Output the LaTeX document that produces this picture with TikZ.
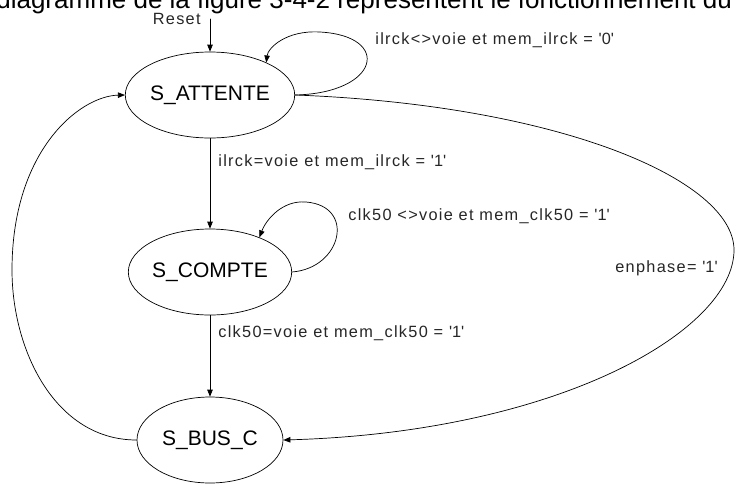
\documentclass[tikz,border=0pt]{standalone}
\usepackage{fontspec}
\setmainfont{Liberation Sans}
\newfontfamily\lblfont[LetterSpace=8]{Liberation Sans}
\usepackage{tikz}
\usetikzlibrary{arrows.meta,shapes.geometric}

\newcommand{\qbit}[1]{\textquotesingle#1\textquotesingle}

\begin{document}
\begin{tikzpicture}[x=1pt,y=-1pt,line cap=round,line join=round,line width=0.7pt,
    >={Triangle[length=7pt,width=5.5pt]},
    etat/.style={ellipse, draw, minimum width=146pt, minimum height=86pt, inner sep=0pt,
                 font=\fontsize{21}{21}\selectfont},
    cond/.style={anchor=west, inner sep=0pt, text=black!85, font=\lblfont\fontsize{16.3}{16.3}\selectfont}]
    \useasboundingbox (0,0) rectangle (736,483);

    % texte coupe en haut de la page
    \node[anchor=base west, inner sep=0pt, font=\fontsize{26}{26}\selectfont] (titre) at (-4,8)
        {diagramme de la figure 3-4-2 représentent le fonctionnement du};

    % les trois etats
    \node[etat] (attente) at (210,95) {S\_ATTENTE};
    \node[etat] (compte) at (210,272) {S\_COMPTE};
    \node[etat] (busc) at (210,440) {S\_BUS\_C};

    % reset
    \coordinate (reset) at (210,19);
    \node[cond, anchor=east] (lreset) at (201,19) {Reset};
    \draw[->] (reset) -- (attente.north);

    % attente
    \draw[->] (attente.east) .. controls (380,93) and (392,36) .. (320,32)
              .. controls (286,30) and (268,48) .. (attente.30);
    \node[cond] (c1) at (375,40) {ilrck<>voie et mem\_ilrck = \qbit{0}};
    \draw[->] (attente) -- (compte);
    \node[cond] (c2) at (218,162) {ilrck=voie et mem\_ilrck = \qbit{1}};

    % compte
    \draw[->] (compte.east) .. controls (342,268) and (356,206) .. (306,202)
              .. controls (282,200) and (266,220) .. (compte.35);
    \node[cond] (c3) at (348,216) {clk50 <>voie et mem\_clk50 = \qbit{1}};
    \draw[->] (compte) -- (busc);
    \node[cond] (c4) at (218,333) {clk50=voie et mem\_clk50 = \qbit{1}};

    % retours
    \draw[->] (attente.east) .. controls (560,105) and (734,180) .. (734,250)
              .. controls (734,330) and (560,432) .. (busc.east);
    \node[cond] (c5) at (615,268) {enphase= \qbit{1}};
    \draw[->] (busc.west) .. controls (55,440) and (12,350) .. (12,270)
              .. controls (12,150) and (80,96) .. (attente.west);
\end{tikzpicture}
\end{document}
